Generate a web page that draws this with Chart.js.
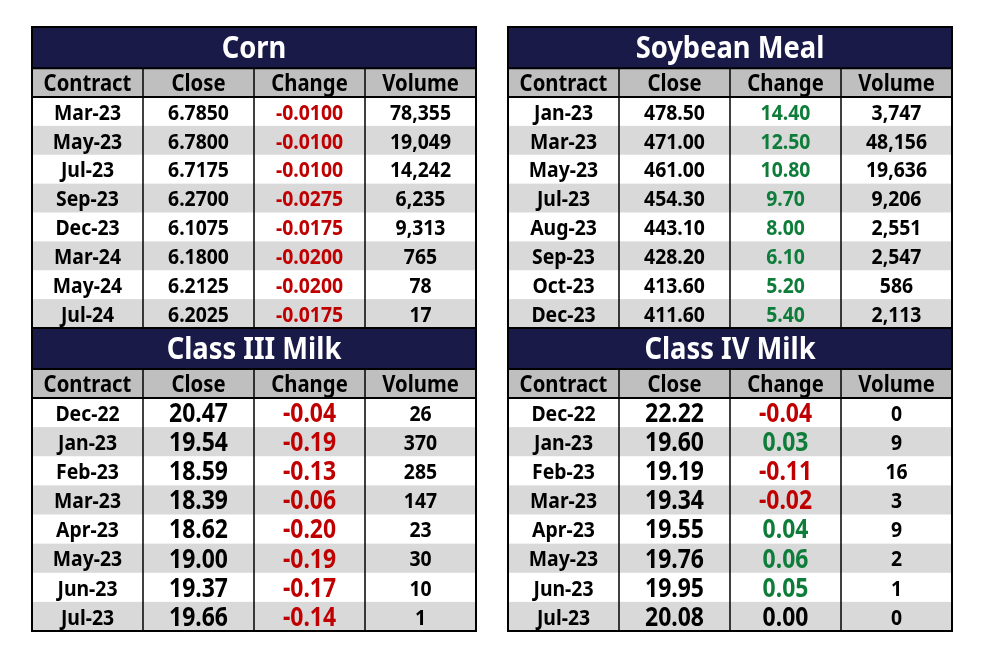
<!DOCTYPE html>
<html>
<head>
<meta charset="utf-8">
<script src="https://cdn.jsdelivr.net/npm/chart.js@4/dist/chart.umd.min.js"></script>
<style>
  body { margin: 0; background: #fff; }
  .tbl { position: absolute; }
</style>
</head>
<body>
<div class="tbl" style="left:31px; top:26px"><canvas id="corn" width="446" height="304"></canvas></div>
<div class="tbl" style="left:507px; top:26px"><canvas id="soy" width="446" height="304"></canvas></div>
<div class="tbl" style="left:31px; top:327px"><canvas id="milk3" width="446" height="306"></canvas></div>
<div class="tbl" style="left:507px; top:327px"><canvas id="milk4" width="446" height="306"></canvas></div>
<script>
const columns = ['Contract', 'Close', 'Change', 'Volume'];

const cornContracts = ['Mar-23', 'May-23', 'Jul-23', 'Sep-23', 'Dec-23', 'Mar-24', 'May-24', 'Jul-24'];
const cornClose = [6.7850, 6.7800, 6.7175, 6.2700, 6.1075, 6.1800, 6.2125, 6.2025];
const cornChange = [-0.0100, -0.0100, -0.0100, -0.0275, -0.0175, -0.0200, -0.0200, -0.0175];
const cornVolume = [78355, 19049, 14242, 6235, 9313, 765, 78, 17];

const soyContracts = ['Jan-23', 'Mar-23', 'May-23', 'Jul-23', 'Aug-23', 'Sep-23', 'Oct-23', 'Dec-23'];
const soyClose = [478.50, 471.00, 461.00, 454.30, 443.10, 428.20, 413.60, 411.60];
const soyChange = [14.40, 12.50, 10.80, 9.70, 8.00, 6.10, 5.20, 5.40];
const soyVolume = [3747, 48156, 19636, 9206, 2551, 2547, 586, 2113];

const milk3Contracts = ['Dec-22', 'Jan-23', 'Feb-23', 'Mar-23', 'Apr-23', 'May-23', 'Jun-23', 'Jul-23'];
const milk3Close = [20.47, 19.54, 18.59, 18.39, 18.62, 19.00, 19.37, 19.66];
const milk3Change = [-0.04, -0.19, -0.13, -0.06, -0.20, -0.19, -0.17, -0.14];
const milk3Volume = [26, 370, 285, 147, 23, 30, 10, 1];

const milk4Contracts = ['Dec-22', 'Jan-23', 'Feb-23', 'Mar-23', 'Apr-23', 'May-23', 'Jun-23', 'Jul-23'];
const milk4Close = [22.22, 19.60, 19.19, 19.34, 19.55, 19.76, 19.95, 20.08];
const milk4Change = [-0.04, 0.03, -0.11, -0.02, 0.04, 0.06, 0.05, 0.00];
const milk4Volume = [0, 9, 16, 3, 9, 2, 1, 0];

const FONT = '"Noto Sans", "DejaVu Sans", sans-serif';
const NAVY = '#1a1a48';
const HEAD = '#bfbfbf';
const STRIPE = '#d9d9d9';
const RED = '#c00000';
const GREEN = '#0e7d3a';

let squeeze = null;

function drawText(ctx, str, cx, cy, size, color) {
  ctx.save();
  ctx.font = 'bold ' + size + 'px ' + FONT;
  if (squeeze === null) {
    // condense the installed font to the narrow face of the original
    squeeze = 67 / ctx.measureText('Mar-23').width * (size / 22);
  }
  ctx.fillStyle = color;
  ctx.textAlign = 'center';
  ctx.textBaseline = 'middle';
  ctx.translate(cx, cy + 2);
  ctx.scale(squeeze, 1);
  ctx.fillText(str, 0, 0);
  ctx.restore();
}

const tablePlugin = {
  id: 'table',
  afterDraw(chart, args, opts) {
    const { ctx, chartArea: a, scales: { x, y } } = chart;
    const colW = x.getPixelForValue(1) - x.getPixelForValue(0);
    const rowH = y.getPixelForValue(1) - y.getPixelForValue(0);
    const headTop = a.top - rowH;

    ctx.save();
    // title band
    ctx.fillStyle = NAVY;
    ctx.fillRect(a.left, 1, a.width, headTop - 1);
    // header band
    ctx.fillStyle = HEAD;
    ctx.fillRect(a.left, headTop, a.width, rowH);
    // striped rows
    opts.contracts.forEach((c, i) => {
      if (i % 2 === 1) {
        ctx.fillStyle = STRIPE;
        ctx.fillRect(a.left, y.getPixelForValue(i) - rowH / 2, a.width, rowH);
      }
    });

    // grid lines
    ctx.strokeStyle = '#000';
    ctx.lineWidth = 1.5;
    for (let j = 1; j < columns.length; j++) {
      const gx = x.getPixelForValue(j) - colW / 2;
      ctx.beginPath();
      ctx.moveTo(gx, headTop);
      ctx.lineTo(gx, a.bottom);
      ctx.stroke();
    }
    ctx.lineWidth = 2;
    [headTop, a.top].forEach(gy => {
      ctx.beginPath();
      ctx.moveTo(a.left, gy);
      ctx.lineTo(a.right, gy);
      ctx.stroke();
    });
    ctx.strokeRect(a.left, 1, a.width, a.bottom - 1);
    ctx.restore();

    // texts
    drawText(ctx, opts.title, (a.left + a.right) / 2, (1 + headTop) / 2, 31, '#fff');
    columns.forEach((c, j) => drawText(ctx, c, x.getPixelForValue(j), a.top - rowH / 2, 23, '#000'));
    opts.contracts.forEach((c, i) => {
      const cy = y.getPixelForValue(i);
      const ch = opts.change[i];
      const chColor = ch < 0 ? RED : (ch > 0 ? GREEN : '#000');
      drawText(ctx, c, x.getPixelForValue(0), cy, 22, '#000');
      drawText(ctx, opts.close[i].toFixed(opts.decimals), x.getPixelForValue(1), cy, opts.bigSize, '#000');
      drawText(ctx, ch.toFixed(opts.decimals), x.getPixelForValue(2), cy, opts.bigSize, chColor);
      drawText(ctx, opts.volume[i].toLocaleString('en-US'), x.getPixelForValue(3), cy, 22, '#000');
    });
  }
};

function makeTable(id, title, contracts, close, change, volume, decimals, bigSize) {
  new Chart(document.getElementById(id), {
    type: 'bar',
    data: { labels: contracts, datasets: [] },
    options: {
      responsive: false,
      animation: false,
      events: [],
      layout: { padding: { top: 71, left: 1, right: 1, bottom: 2 } },
      plugins: {
        legend: { display: false },
        tooltip: { enabled: false },
        table: { title, contracts, close, change, volume, decimals, bigSize }
      },
      scales: {
        x: { type: 'category', labels: columns, display: false, offset: true },
        y: { type: 'category', labels: contracts, display: false, offset: true }
      }
    },
    plugins: [tablePlugin]
  });
}

makeTable('corn', 'Corn', cornContracts, cornClose, cornChange, cornVolume, 4, 22);
makeTable('soy', 'Soybean Meal', soyContracts, soyClose, soyChange, soyVolume, 2, 22);
makeTable('milk3', 'Class III Milk', milk3Contracts, milk3Close, milk3Change, milk3Volume, 2, 26);
makeTable('milk4', 'Class IV Milk', milk4Contracts, milk4Close, milk4Change, milk4Volume, 2, 26);
</script>
</body>
</html>
